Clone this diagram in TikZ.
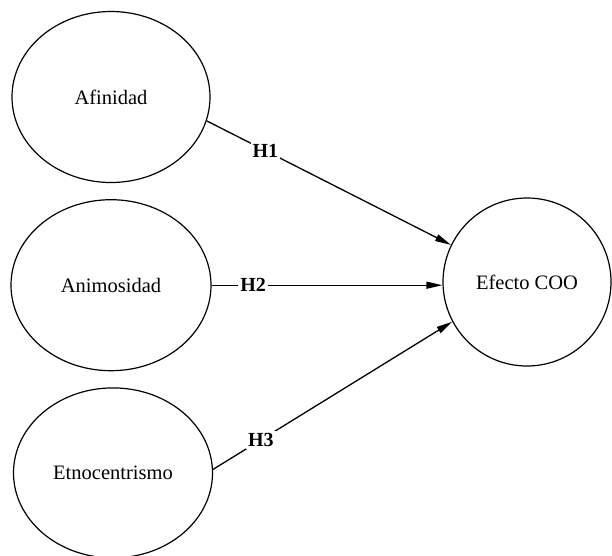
\documentclass[tikz,border=0pt]{standalone}
\usepackage{fontspec}
\setmainfont{Liberation Serif}
\usepackage{tikz}
\usetikzlibrary{arrows.meta,positioning,shapes.geometric}

\begin{document}
\begin{tikzpicture}[x=1pt,y=1pt,node distance=16pt,
        construct/.style={ellipse,draw,line width=1.2pt,inner sep=0pt,
            font=\fontsize{20.5}{24}\selectfont},
        path/.style={line width=1.3pt,-{Triangle[length=16pt,width=7pt]}},
        hyp/.style={fill=white,inner sep=2pt,font=\fontsize{20}{24}\selectfont\bfseries}]
    \useasboundingbox (0,0) rectangle (612,-555);

    \node [construct,minimum width=198pt,minimum height=171pt] (afinidad) at (111,-97) {Afinidad};
    \node [construct,minimum width=200pt,minimum height=171pt,below=of afinidad] (animosidad) {Animosidad};
    \node [construct,minimum width=199pt,minimum height=170pt,below=16pt of animosidad,xshift=2pt] (etnocentrismo) {Etnocentrismo};
    \node [construct,minimum width=168pt,minimum height=168pt] (efecto) at (527,-282) {Efecto COO};

    \draw [path] (afinidad.-14) -- node [hyp,pos=0.24] {H1} (efecto.154);
    \draw [path] (animosidad.east) -- node [hyp,pos=0.18] {H2} (animosidad.east -| efecto.west);
    \draw [path] (etnocentrismo.2) -- node [hyp,pos=0.2] {H3} (efecto.208);
\end{tikzpicture}
\end{document}
